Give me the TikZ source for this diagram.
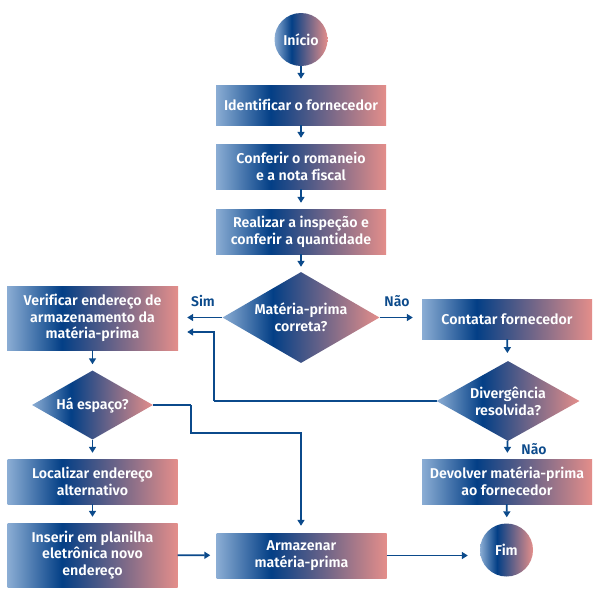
\documentclass[tikz,border=0pt]{standalone}
\usepackage{fontspec}
\setmainfont{Fira Sans}[BoldFont={Fira Sans SemiBold}, Ligatures=NoCommon]
\usetikzlibrary{arrows.meta,shapes.geometric}
\definecolor{lb}{HTML}{8BADD4}
\definecolor{db}{HTML}{033F86}
\definecolor{pk}{HTML}{E48E8A}
\definecolor{ln}{HTML}{0B4A8B}
\pgfdeclarehorizontalshading{fl}{100bp}{color(0bp)=(lb); color(25bp)=(lb); color(41bp)=(db); color(75bp)=(pk); color(100bp)=(pk)}
\tikzset{
  txt/.style={text=white, font=\bfseries\fontsize{14.2}{16.8}\selectfont, align=center},
  box/.style={rectangle, shade, shading=fl, inner sep=0pt, minimum width=170pt, txt},
  term/.style={circle, shade, shading=fl, inner sep=0pt, minimum size=53pt, txt},
  dia/.style={diamond, shade, shading=fl, inner sep=0pt},
  labtxt/.style={txt},
  conn/.style={draw=ln, line width=1.8pt, -{Triangle[length=6pt,width=7pt]}, shorten >=6pt},
  lab/.style={text=ln, font=\bfseries\fontsize{14}{16}\selectfont}
}
\begin{document}
\begin{tikzpicture}[x=1pt,y=-1pt]
\useasboundingbox (0,0) rectangle (601,600);
\fill[white] (0,0) rectangle (601,600);
% connectors drawn first (under shapes)
\coordinate (k1) at (214,401);
\coordinate (k2) at (214,332);
\coordinate (h1) at (191,405);
\coordinate (h2) at (191,433);
\coordinate (h3) at (301,433);
\draw[draw=ln, line width=1.8pt] (437,401) -- (k1);
\draw[draw=ln, line width=1.8pt] (153,405) -- (h1);
% nodes
\node[term] (inicio) at (301,39.5) {Início};
\node[box, minimum height=40pt] (n1) at (301,105) {Identificar o fornecedor};
\node[box, minimum height=45pt] (n2) at (301,166.5) {Conferir o romaneio\\e a nota fiscal};
\node[box, minimum height=45pt] (n3) at (301,231.5) {Realizar a inspeção e\\conferir a quantidade};
\node[dia, minimum width=157pt, minimum height=91pt, label={[labtxt]center:Matéria-prima\\correta?}] (d1) at (301,317.5) {};
\node[box, minimum height=64pt, minimum width=171pt] (verif) at (92.5,318) {Verificar endereço de\\armazenamento da\\matéria-prima};
\node[box, minimum height=40pt] (contatar) at (507,319) {Contatar fornecedor};
\node[dia, minimum width=143pt, minimum height=80pt, label={[labtxt]center:Divergência\\resolvida?}] (d2) at (508,401) {};
\node[dia, minimum width=121pt, minimum height=69pt, label={[labtxt]center:Há espaço?}] (d3) at (92.5,405) {};
\node[box, minimum height=45pt] (localizar) at (92.5,481.5) {Localizar endereço\\alternativo};
\node[box, minimum height=64pt] (inserir) at (92.5,555) {Inserir em planilha\\eletrônica novo\\endereço};
\node[box, minimum height=45pt] (armazenar) at (301.5,555.5) {Armazenar\\matéria-prima};
\node[box, minimum height=45pt] (devolver) at (507,481.5) {Devolver matéria-prima\\ao fornecedor};
\node[term] (fim) at (506.5,550) {Fim};
% arrows
\draw[conn] (inicio) -- (n1);
\draw[conn] (n1) -- (n2);
\draw[conn] (n2) -- (n3);
\draw[conn, shorten >=5pt] (n3) -- (d1);
\draw[conn, shorten >=9pt] (d1.west) -- (verif.east |- d1.west);
\draw[conn, shorten >=9pt] (d1.east) -- (contatar.west |- d1.east);
\draw[conn, shorten >=8pt] (contatar) -- (d2);
\draw[conn, shorten >=9pt] (k1) -- (k2) -- (verif.east |- k2);
\draw[conn] (d2) -- (devolver);
\draw[conn] (devolver) -- (fim);
\draw[conn] (verif) -- (d3);
\draw[conn] (d3) -- (localizar);
\draw[conn] (localizar) -- (inserir);
\draw[conn, shorten >=7pt] (h1) -- (h2) -- (h3) -- (h3 |- armazenar.north);
\draw[conn] (inserir) -- (armazenar);
\draw[conn, shorten >=12pt] (armazenar.east) -- (armazenar.east -| fim.west);
% labels
\node[lab] (sim) at (203,301) {Sim};
\node[lab] (nao1) at (397,301) {Não};
\node[lab] (nao2) at (534,449) {Não};
\end{tikzpicture}
\end{document}
